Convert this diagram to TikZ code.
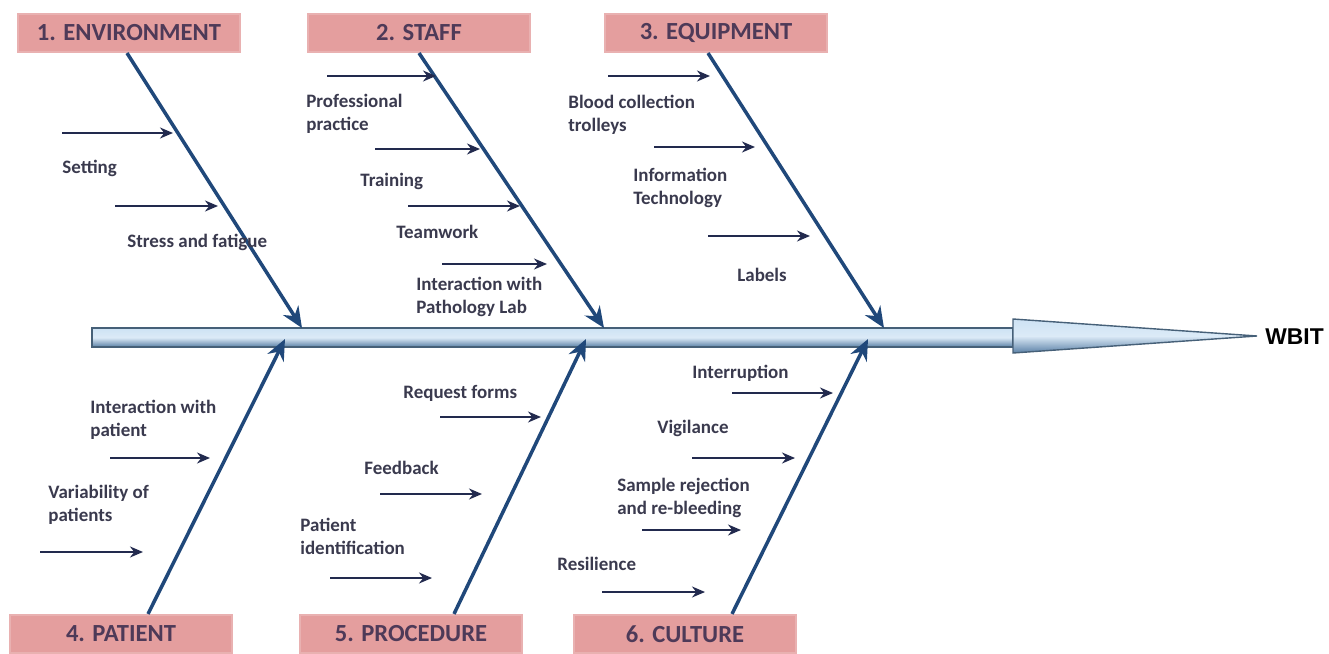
\documentclass[tikz,border=0pt]{standalone}
\usepackage{fontspec}
\setmainfont{Carlito}
\newfontfamily\arialfont{Liberation Sans}
\usetikzlibrary{arrows.meta,positioning}

\definecolor{bonecol}{RGB}{32,72,122}
\definecolor{twigcol}{RGB}{34,42,78}
\definecolor{labelcol}{RGB}{58,58,78}
\definecolor{headfill}{RGB}{228,158,158}
\definecolor{headtext}{RGB}{78,58,88}
\definecolor{spinelight}{RGB}{205,226,244}
\definecolor{spinedark}{RGB}{90,128,166}
\definecolor{spineedge}{RGB}{70,96,120}

\begin{document}
\begin{tikzpicture}[
    x=0.02cm, y=-0.02cm,
    >=Stealth,
    header/.style={rectangle, fill=headfill, draw=headfill!80!white, line width=1.2pt,
                   minimum width=4.44cm, minimum height=0.76cm, inner sep=0pt,
                   text=headtext, font=\fontsize{14}{16}\selectfont\bfseries},
    cause/.style={align=left, anchor=north west, inner sep=0pt, text=labelcol,
                  font=\fontsize{10.8}{13}\selectfont\bfseries},
    bone/.style={draw=bonecol, line width=2pt, -{Stealth[length=4.2mm,width=3.6mm]}},
    twig/.style={draw=twigcol, line width=1.1pt, -{Stealth[length=2.6mm,width=2.2mm]}},
    spine/.style={top color=spinelight, bottom color=spinedark, middle color=spinelight!70!white,
                  draw=spineedge, line width=0.8pt}
    ]
    \useasboundingbox (0,0) rectangle (1329,653);

    % Main spine with its arrow head
    \shade[spine] (92,328) rectangle (1013,347);
    \shade[spine] (1013,319) -- (1257,336) -- (1013,353) -- cycle;
    \node[anchor=west, inner sep=0pt, font=\arialfont\fontsize{13}{15}\selectfont\bfseries] (effect) at (1265,337) {WBIT};

    % Category headers
    \node[header] (env)   at (129,33)  {1. ENVIRONMENT};
    \node[header] (staff) at (419,33)  {2. STAFF};
    \node[header] (equip) at (716,33)  {3. EQUIPMENT};
    \node[header] (pat)   at (121,634) {4. PATIENT};
    \node[header] (proc)  at (411,634) {5. PROCEDURE};
    \node[header] (cult)  at (685,634) {6. CULTURE};

    % Where the bones meet the spine
    \coordinate (j1) at (302,328);
    \coordinate (j2) at (604,328);
    \coordinate (j3) at (884,328);
    \coordinate (j4) at (285,339);
    \coordinate (j5) at (586,339);
    \coordinate (j6) at (868,339);

    % Main bones
    \draw[bone] (env.south -| 127,0) -- (j1);
    \draw[bone] (staff.south) -- (j2);
    \draw[bone] (equip.south -| 708,0) -- (j3);
    \draw[bone] (pat.north -| 148,0) -- (j4);
    \draw[bone] (proc.north -| 454,0) -- (j5);
    \draw[bone] (cult.north -| 732,0) -- (j6);

    % Causes: label position, arrow start x, arrow end x, arrow y
    \foreach \n/\lx/\ly/\ax/\bx/\ay/\txt in {
        set/62/160/62/173/133/{Setting},
        stress/127/234/115/218/206/{Stress and fatigue},
        prof/306/94/327/436/76/{Professional\\practice},
        train/360/173/375/480/149/{Training},
        team/396/225/408/520/206/{Teamwork},
        lab/416/277/442/547/264/{Interaction with\\Pathology Lab},
        trolley/568/95/608/710/76/{Blood collection\\trolleys},
        it/633/168/654/755/147/{Information\\Technology},
        lbl/737/268/708/810/236/{Labels},
        inter/90/400/110/210/458/{Interaction with\\patient},
        vary/48/485/40/143/552/{Variability of\\patients},
        req/403/385/440/541/417/{Request forms},
        feed/364/461/380/482/494/{Feedback},
        pid/300/518/330/432/578/{Patient\\identification},
        intr/692/365/732/833/393/{Interruption},
        vig/657/420/692/795/458/{Vigilance},
        samp/617/478/642/741/530/{Sample rejection\\and re-bleeding},
        res/557/557/602/705/592/{Resilience}} {
      \node[cause] (\n) at (\lx,\ly) {\txt};
      \coordinate (\n-a) at (\ax,\ay);
      \coordinate (\n-b) at (\bx,\ay);
      \draw[twig] (\n-a) -- (\n-b);
    }

  \end{tikzpicture}
\end{document}
